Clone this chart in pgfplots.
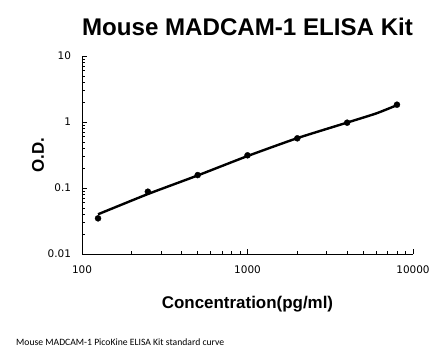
\documentclass[border=0pt]{standalone}
\usepackage{pgfplots}
\pgfplotsset{compat=1.18}
\usepackage{fontspec}
\setmainfont{Liberation Sans}
\newfontfamily\dejavu{DejaVu Sans}
\newfontfamily\carlito{Carlito}
\begin{document}
\begin{tikzpicture}
\useasboundingbox (0,0) rectangle (446bp,-356bp);
\begin{axis}[
  at={(82bp,-254bp)}, anchor=south west,
  scale only axis, width=331bp, height=198bp,
  xmode=log, ymode=log,
  xmin=100, xmax=10000, ymin=0.01, ymax=10,
  axis lines=left, axis line style={-, line width=0.9bp},
  tick align=inside,
  major tick length=5bp, minor tick length=3.5bp,
  every tick/.style={black, line width=0.7bp},
  xtick={100,1000,10000}, xticklabels={100,1000,10000},
  ytick={0.01,0.1,1,10}, yticklabels={0.01,0.1,1,10},
  ticklabel style={font=\dejavu\fontsize{10.5}{12}\selectfont},
  yticklabel style={xshift=-7.5bp},
  xticklabel style={yshift=-8bp},
  title={Mouse MADCAM-1 ELISA Kit},
  title style={at={(0.5,1)}, anchor=center, yshift=23bp, font=\bfseries\fontsize{24.2}{27}\selectfont},
  xlabel={Concentration(pg/ml)},
  xlabel style={at={(0.5,0)}, anchor=center, yshift=-50bp, font=\bfseries\fontsize{17}{20}\selectfont},
  ylabel={O.D.},
  ylabel style={at={(0,0.5)}, anchor=center, yshift=44bp, font=\bfseries\fontsize{17}{20}\selectfont},
  clip=false,
]
\addplot[black, line width=2.4bp, smooth, tension=0.3] coordinates {
  (125,0.040) (250,0.081) (500,0.155) (1000,0.305) (2000,0.57) (4000,0.98) (6000,1.35) (8000,1.80)
};
\addplot[only marks, mark=*, mark size=3bp, black] coordinates {
  (125,0.0347) (250,0.088) (500,0.157) (1000,0.313) (2000,0.566) (4000,0.977) (8000,1.83)
};
\end{axis}
\node[anchor=west, inner sep=0pt, font=\carlito\fontsize{9.7}{11}\selectfont] at (16bp,-342bp) {Mouse MADCAM-1 PicoKine ELISA Kit standard curve};
\end{tikzpicture}
\end{document}
